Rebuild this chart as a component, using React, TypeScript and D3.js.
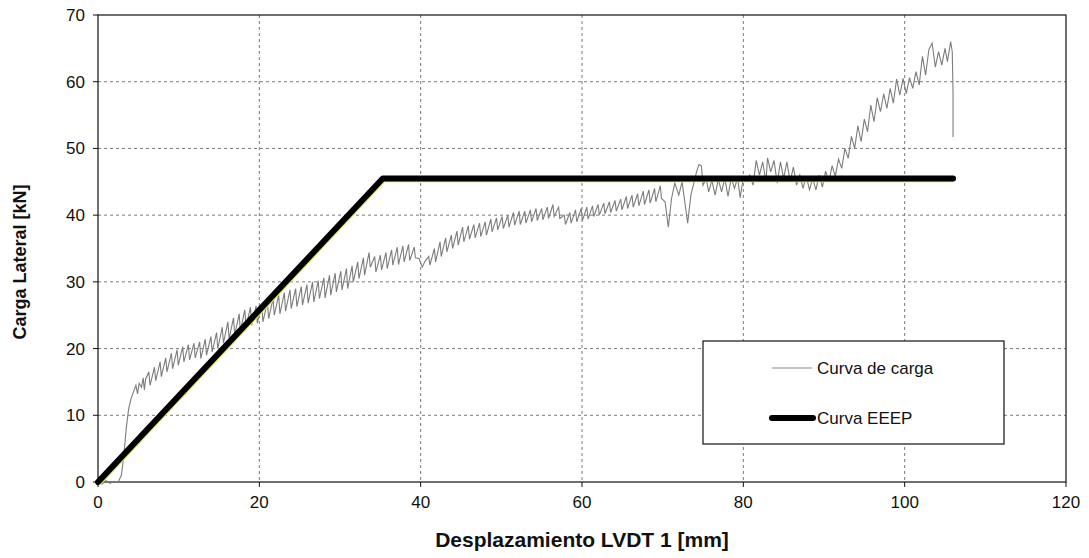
import React from "react";
import * as d3 from "d3";

// load curve: [displacement mm, load kN]
const loadCurve: [number, number][] = [
  [0, 0], [0.5, -0.3], [1, 0.2], [1.5, -0.2], [2, 0.1], [2.5, 0], [2.9, 1], [3.2, 4],
  [3.5, 8], [3.8, 11], [4.1, 12.5], [4.4, 13.5], [4.7, 14.5], [4.9, 13.2], [5.1, 14.8],
  [5.4, 14.2], [5.6, 15.6], [5.75, 13.8], [5.9, 15.4],
  [6.3, 16.5], [6.45, 14.5], [7.0, 17.2], [7.15, 15.2], [7.7, 18.0], [7.85, 15.8],
  [8.4, 18.6], [8.55, 16.5], [9.1, 19.3], [9.25, 17.0], [9.8, 19.8], [9.95, 17.5],
  [10.5, 20.3], [10.65, 18.0], [11.2, 20.6], [11.35, 18.3], [11.9, 20.8], [12.05, 18.6],
  [12.6, 21.0], [12.75, 18.5], [13.3, 21.4], [13.45, 19.0], [14.0, 21.8], [14.15, 19.5],
  [14.7, 22.4], [14.85, 20.0], [15.4, 23.2], [15.55, 20.8], [16.1, 24.0], [16.25, 21.5],
  [16.8, 24.6], [16.95, 22.0], [17.5, 25.2], [17.65, 22.6], [18.2, 25.8], [18.35, 23.2],
  [18.9, 26.2], [19.05, 23.5], [19.6, 26.4], [19.75, 23.8], [20.3, 26.6], [20.45, 24.0],
  [21.0, 27.0], [21.15, 24.5], [21.7, 27.5], [21.85, 25.0], [22.4, 28.0], [22.55, 25.2],
  [23.1, 28.4], [23.25, 25.6], [23.8, 28.8], [23.95, 26.0], [24.5, 29.0], [24.65, 26.3],
  [25.2, 29.3], [25.35, 26.5], [25.9, 29.6], [26.05, 26.8], [26.6, 30.0], [26.75, 27.0],
  [27.3, 30.2], [27.45, 27.5], [28.0, 30.6], [28.15, 27.6], [28.7, 31.0], [28.85, 28.0],
  [29.4, 31.3], [29.55, 28.5], [30.1, 31.6], [30.25, 28.8], [30.8, 32.0], [30.95, 29.0],
  [31.5, 32.4], [31.65, 30.0], [32.2, 33.0], [32.35, 30.5], [32.9, 33.6], [33.05, 31.0],
  [33.6, 34.4], [33.75, 32.2], [34.3, 33.8], [34.45, 31.5], [35.0, 34.0], [35.15, 31.8],
  [35.7, 34.4], [35.85, 32.0], [36.4, 34.8], [36.55, 32.5], [37.1, 35.2], [37.25, 32.6],
  [37.8, 35.4], [37.95, 33.0], [38.5, 35.6], [38.65, 33.2], [39.2, 35.2], [39.35, 33.6],
  [39.8, 33.5], [40.2, 32.2], [40.5, 33.0], [41.0, 33.8], [41.15, 32.5],
  [41.7, 35.0], [41.85, 33.0], [42.4, 36.0], [42.55, 33.8], [43.1, 36.6], [43.25, 34.5],
  [43.8, 37.0], [43.95, 35.0], [44.5, 37.6], [44.65, 35.5], [45.2, 38.2], [45.35, 36.0],
  [45.9, 38.4], [46.05, 36.4], [46.6, 38.6], [46.75, 36.6], [47.3, 38.8], [47.45, 36.8],
  [48.0, 39.0], [48.15, 37.0], [48.7, 39.4], [48.85, 37.5], [49.4, 39.6], [49.55, 37.8],
  [50.1, 39.8], [50.25, 38.0], [50.8, 40.0], [50.95, 38.2], [51.5, 40.4], [51.65, 38.5],
  [52.2, 40.6], [52.35, 38.6], [52.9, 40.6], [53.05, 38.8], [53.6, 40.8], [53.75, 39.0],
  [54.3, 41.0], [54.45, 39.2], [55.0, 41.0], [55.15, 39.3], [55.7, 41.2], [55.85, 39.5],
  [56.4, 41.6], [56.55, 39.8], [57.1, 41.2], [57.25, 39.5], [57.8, 40.0], [57.95, 38.6],
  [58.5, 40.4], [58.65, 38.8], [59.2, 40.8], [59.35, 39.0], [59.9, 41.0], [60.05, 39.2],
  [60.6, 41.2], [60.75, 39.4], [61.3, 41.4], [61.45, 39.8], [62.0, 41.6], [62.15, 40.0],
  [62.7, 41.8], [62.85, 40.2], [63.4, 42.0], [63.55, 40.4], [64.1, 42.2], [64.25, 40.6],
  [64.8, 42.4], [64.95, 40.8], [65.5, 42.8], [65.65, 41.0], [66.2, 43.0], [66.35, 41.2],
  [66.9, 43.2], [67.05, 41.4], [67.6, 43.6], [67.75, 41.6], [68.3, 43.8], [68.45, 41.8],
  [69.0, 44.0], [69.15, 42.0], [69.7, 44.4], [69.85, 42.5],
  [70.3, 42.0], [70.7, 38.2], [71.1, 42.5], [71.5, 44.8], [72.0, 43.0], [72.4, 45.0],
  [72.8, 41.5], [73.1, 38.8], [73.5, 43.0], [73.9, 45.0], [74.2, 46.5], [74.5, 47.6],
  [74.8, 47.4], [75.0, 44.5], [75.4, 45.5], [75.7, 43.5], [76.1, 45.2], [76.5, 43.0],
  [76.9, 45.4], [77.3, 43.5], [77.7, 45.5], [78.1, 42.8], [78.5, 45.6], [78.9, 44.0],
  [79.3, 45.6], [79.6, 42.6], [80.0, 45.6], [80.4, 45.2], [80.8, 46.0], [81.2, 44.5],
  [81.6, 48.2], [82.0, 46.0], [82.4, 48.0], [82.8, 45.0], [83.0, 48.6], [83.4, 46.5],
  [83.8, 48.2], [84.2, 44.8], [84.6, 48.0], [85.0, 45.5], [85.4, 48.0], [85.8, 45.0],
  [86.2, 47.2], [86.6, 44.5], [87.0, 46.0], [87.4, 44.0], [87.8, 45.8], [88.2, 43.8],
  [88.6, 45.5], [89.0, 43.8], [89.4, 46.0], [89.8, 44.2], [90.2, 46.6], [90.6, 45.0],
  [91.0, 47.4], [91.4, 45.8], [91.8, 48.4], [92.2, 47.0], [92.6, 50.0], [93.0, 48.5],
  [93.4, 51.8], [93.8, 50.0], [94.2, 53.4], [94.6, 51.0], [95.0, 54.4], [95.4, 52.5],
  [95.8, 56.5], [96.2, 54.0], [96.6, 57.6], [97.0, 55.5], [97.4, 58.2], [97.8, 56.0],
  [98.2, 59.0], [98.6, 56.8], [99.0, 60.4], [99.4, 58.0], [99.8, 60.5], [100.2, 58.2],
  [100.6, 60.6], [101.0, 59.0], [101.4, 61.5], [101.8, 59.5], [102.2, 63.8], [102.6, 61.0],
  [103.0, 64.8], [103.4, 65.8], [103.8, 62.2], [104.2, 64.5], [104.6, 62.5], [105.0, 65.0],
  [105.3, 63.0], [105.7, 66.0], [105.9, 64.5], [106.0, 58.0], [106.0, 51.7],
];

// bilinear EEEP curve
const eeepDisp = [0, 35.3, 106];
const eeepLoad = [0, 45.5, 45.5];

const xTicks = [0, 20, 40, 60, 80, 100, 120];
const yTicks = [0, 10, 20, 30, 40, 50, 60, 70];

const W = 1089;
const H = 558;
const m = { left: 98, right: 1066, top: 15, bottom: 482 };
const font = "'Liberation Sans', Arial, sans-serif";

export default function App() {
  const x = d3.scaleLinear().domain([0, 120]).range([m.left, m.right]);
  const y = d3.scaleLinear().domain([0, 70]).range([m.bottom, m.top]);

  const line = d3
    .line<[number, number]>()
    .x((d) => x(d[0]))
    .y((d) => y(d[1]));

  const eeep: [number, number][] = eeepDisp.map((d, i) => [d, eeepLoad[i]]);

  // legend box
  const lg = { x: 703, y: 341, w: 301, h: 103 };

  return (
    <svg
      width={W}
      height={H}
      style={{ position: "absolute", left: 0, top: 0, background: "#fff" }}
      fontFamily={font}
    >
      {/* grid */}
      {xTicks.slice(1, -1).map((t) => (
        <line
          key={"gx" + t}
          x1={x(t)}
          x2={x(t)}
          y1={m.top}
          y2={m.bottom}
          stroke="#7a7a7a"
          strokeDasharray="3,3"
          strokeWidth={1}
        />
      ))}
      {yTicks.slice(1, -1).map((t) => (
        <line
          key={"gy" + t}
          x1={m.left}
          x2={m.right}
          y1={y(t)}
          y2={y(t)}
          stroke="#7a7a7a"
          strokeDasharray="3,3"
          strokeWidth={1}
        />
      ))}

      {/* frame */}
      <rect
        x={m.left}
        y={m.top}
        width={m.right - m.left}
        height={m.bottom - m.top}
        fill="none"
        stroke="#111"
        strokeWidth={1.2}
      />

      {/* ticks */}
      {yTicks.map((t) => (
        <g key={"ty" + t}>
          <line x1={m.left - 5} x2={m.left} y1={y(t)} y2={y(t)} stroke="#111" />
          <text
            x={m.left - 13}
            y={y(t) + 6}
            textAnchor="end"
            fontSize={17}
            fill="#111"
          >
            {t}
          </text>
        </g>
      ))}
      {xTicks.map((t) => (
        <g key={"tx" + t}>
          <line x1={x(t)} x2={x(t)} y1={m.bottom} y2={m.bottom + 5} stroke="#111" />
          <text x={x(t)} y={m.bottom + 26} textAnchor="middle" fontSize={17} fill="#111">
            {t}
          </text>
        </g>
      ))}

      {/* load curve */}
      <path d={line(loadCurve) ?? ""} fill="none" stroke="#7d7d7d" strokeWidth={1.1} />

      {/* EEEP */}
      <path
        d={line(eeep) ?? ""}
        fill="none"
        stroke="#e0e060"
        strokeWidth={6}
        transform="translate(0.6,0.9)"
        strokeLinejoin="round"
      />
      <path
        d={line(eeep) ?? ""}
        fill="none"
        stroke="#000"
        strokeWidth={6}
        strokeLinejoin="round"
        strokeLinecap="round"
      />

      {/* legend */}
      <rect x={lg.x} y={lg.y} width={lg.w} height={lg.h} fill="#fff" stroke="#111" strokeWidth={1.2} />
      <line x1={772} x2={812} y1={368} y2={368} stroke="#8a8a8a" strokeWidth={1.2} />
      <text x={817} y={374} fontSize={17} fill="#111">
        Curva de carga
      </text>
      <line x1={772} x2={813} y1={418} y2={418} stroke="#000" strokeWidth={6} strokeLinecap="round" />
      <text x={817} y={424} fontSize={17} fill="#111">
        Curva EEEP
      </text>

      {/* axis titles */}
      <text
        x={582}
        y={547}
        textAnchor="middle"
        fontSize={21}
        fontWeight="bold"
        fill="#111"
      >
        Desplazamiento LVDT 1 [mm]
      </text>
      <text
        transform={`translate(26,262) rotate(-90)`}
        textAnchor="middle"
        fontSize={18}
        fontWeight="bold"
        fill="#111"
      >
        Carga Lateral [kN]
      </text>
    </svg>
  );
}
